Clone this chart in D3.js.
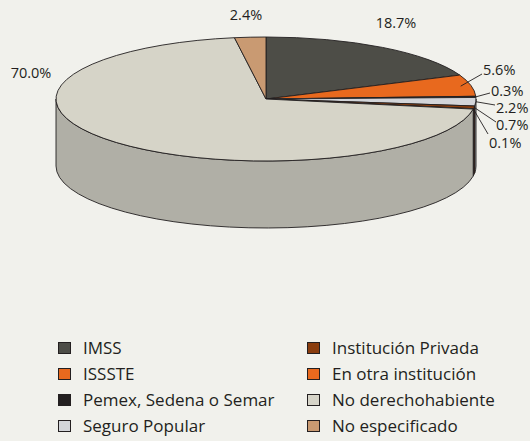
<!DOCTYPE html>
<html>
<head>
<meta charset="utf-8">
<script src="https://cdn.jsdelivr.net/npm/d3@7"></script>
<style>
  html, body { margin: 0; padding: 0; background: #f1f1ec; }
  svg { display: block; }
  text { font-family: "Open Sans", "Noto Sans", sans-serif; fill: #231f20; }
</style>
</head>
<body>
<svg id="chart" width="530" height="441"></svg>
<script>
// Población según condición de derechohabiencia (%)
const categories = [
  "IMSS", "ISSSTE", "Pemex, Sedena o Semar", "Seguro Popular",
  "Institución Privada", "En otra institución", "No derechohabiente", "No especificado"
];
const values = [18.7, 5.6, 0.3, 2.2, 0.7, 0.1, 70.0, 2.4];
const valueLabels = ["18.7%", "5.6%", "0.3%", "2.2%", "0.7%", "0.1%", "70.0%", "2.4%"];
const topColors  = ["#4d4d47", "#e8691e", "#231f20", "#d3d5d9", "#8a3d0e", "#e8691e", "#d6d4c8", "#c99a72"];
const sideColors = ["#3a3a35", "#b8500f", "#1a1718", "#a9abb0", "#5e2808", "#b8500f", "#b0afa6", "#a07a58"];

const svg = d3.select("#chart");

// Ellipse geometry of the tilted pie
const cx = 266, cy = 99, rx = 210, ry = 62, depth = 67;
const ink = "#231f20";

const color = d3.scaleOrdinal().domain(categories).range(topColors);
const sideColor = d3.scaleOrdinal().domain(categories).range(sideColors);

const rows = categories.map((c, i) => ({ name: c, value: values[i], label: valueLabels[i] }));
const arcs = d3.pie().sort(null).value(d => d.value)(rows);

const pt = (a, k = 1, dy = 0) => [cx + rx * k * Math.sin(a), cy - ry * k * Math.cos(a) + dy];

// Side walls: only the front half (angles between π/2 and 3π/2) is visible
const gSide = svg.append("g");
arcs.forEach(d => {
  const s = Math.max(d.startAngle, Math.PI / 2);
  const e = Math.min(d.endAngle, 3 * Math.PI / 2);
  if (e <= s) return;
  const p0 = pt(s), p1 = pt(e), q1 = pt(e, 1, depth), q0 = pt(s, 1, depth);
  const large = (e - s) > Math.PI ? 1 : 0;
  const path = `M${p0}A${rx},${ry} 0 ${large} 1 ${p1}L${q1}A${rx},${ry} 0 ${large} 0 ${q0}Z`;
  gSide.append("path")
    .attr("d", path)
    .attr("fill", sideColor(d.data.name))
    .attr("stroke", ink)
    .attr("stroke-width", 0.9)
    .attr("stroke-linejoin", "round");
});

// Top faces
const gTop = svg.append("g");
arcs.forEach(d => {
  const p0 = pt(d.startAngle), p1 = pt(d.endAngle);
  const large = (d.endAngle - d.startAngle) > Math.PI ? 1 : 0;
  const path = `M${cx},${cy}L${p0}A${rx},${ry} 0 ${large} 1 ${p1}Z`;
  gTop.append("path")
    .attr("d", path)
    .attr("fill", color(d.data.name))
    .attr("stroke", ink)
    .attr("stroke-width", 0.9)
    .attr("stroke-linejoin", "round");
});

// Value labels: anchor point of each label and an optional leader line
// (radius factor of its start on the slice, end point next to the text)
const labelLayout = {
  "IMSS":                  { x: 396, y: 28, anchor: "middle" },
  "ISSSTE":                { x: 483, y: 75, anchor: "start", lead: [0.95, 482, 74] },
  "Pemex, Sedena o Semar": { x: 491, y: 95.5, anchor: "start", lead: [1, 490, 93] },
  "Seguro Popular":        { x: 496, y: 112.5, anchor: "start", lead: [1, 495, 105] },
  "Institución Privada":   { x: 496, y: 129.5, anchor: "start", lead: [1, 496, 122] },
  "En otra institución":   { x: 489, y: 148, anchor: "start", lead: [1, 488, 134] },
  "No derechohabiente":    { x: 31, y: 78, anchor: "middle" },
  "No especificado":       { x: 246, y: 20, anchor: "middle" }
};

const gLab = svg.append("g");
arcs.forEach(d => {
  const L = labelLayout[d.data.name];
  if (L.lead) {
    const mid = (d.startAngle + d.endAngle) / 2;
    const p = pt(mid, L.lead[0]);
    gLab.append("line")
      .attr("x1", p[0]).attr("y1", p[1])
      .attr("x2", L.lead[1]).attr("y2", L.lead[2])
      .attr("stroke", ink).attr("stroke-width", 0.9);
  }
  gLab.append("text")
    .attr("x", L.x).attr("y", L.y)
    .attr("text-anchor", L.anchor)
    .style("font-size", "14.5px")
    .text(d.data.label);
});

// Legend: two columns of four entries
const legend = svg.append("g");
const colX = [58, 307], rowY = [348, 374, 400, 426];
categories.forEach((c, i) => {
  const col = Math.floor(i / 4), row = i % 4;
  const g = legend.append("g").attr("transform", `translate(${colX[col]},${rowY[row]})`);
  g.append("rect")
    .attr("x", 0.5).attr("y", -5.5)
    .attr("width", 12).attr("height", 11)
    .attr("fill", color(c))
    .attr("stroke", ink).attr("stroke-width", 1);
  g.append("text")
    .attr("x", 25).attr("y", 5.5)
    .style("font-size", "17px")
    .text(c);
});
</script>
</body>
</html>
